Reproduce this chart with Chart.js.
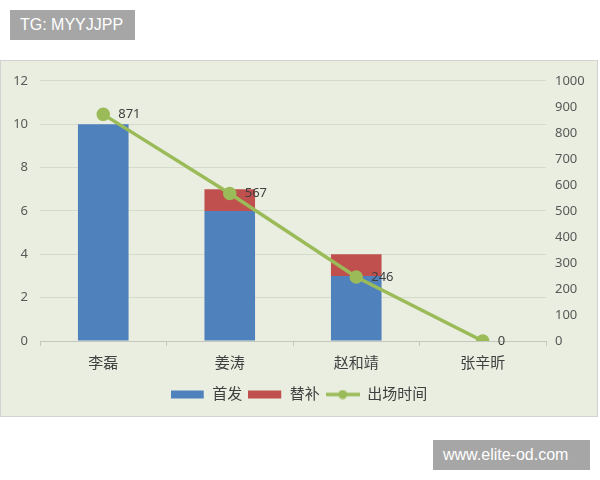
<!DOCTYPE html>
<html>
<head>
<meta charset="utf-8">
<script src="https://cdn.jsdelivr.net/npm/chart.js@4"></script>
<style>
  body { margin: 0; background: #fff; width: 600px; height: 480px; position: relative; overflow: hidden; }
  .tag { position: absolute; background: #a6a6a6; color: #fff; font-family: "Liberation Sans", Arial, sans-serif; font-size: 16px; line-height: 30px; padding: 0 10px; }
  #tg { left: 10px; top: 10px; width: 105px; }
  #site { left: 433px; top: 440px; width: 137px; }
  #panel { position: absolute; left: 0; top: 60px; width: 598px; height: 357px; box-sizing: border-box; border: 1px solid #d2d2d2; background: #e9eee0; }
  #panel canvas { position: absolute; left: 0; top: 0; }
</style>
</head>
<body>
<div class="tag" id="tg">TG: MYYJJPP</div>
<div class="tag" id="site">www.elite-od.com</div>
<div id="panel"><canvas id="canvas" width="596" height="355"></canvas></div>
<script>
const players = ['李磊', '姜涛', '赵和靖', '张辛昕'];
const starts = [10, 6, 3, 0];
const subs = [0, 1, 1, 0];
const minutes = [871, 567, 246, 0];

const fontFam = '"Noto Sans", "Noto Sans CJK SC", sans-serif';

// little pictures for the legend keys
function keyPic(kind, color) {
  const c = document.createElement('canvas');
  c.width = 34; c.height = 10;
  const g = c.getContext('2d');
  g.fillStyle = color;
  g.strokeStyle = color;
  if (kind === 'box') {
    g.fillRect(0, 1, 33, 8);
  } else {
    g.lineWidth = 3.5;
    g.beginPath(); g.moveTo(0, 5); g.lineTo(34, 5); g.stroke();
    g.beginPath(); g.arc(17, 5, 4.5, 0, Math.PI * 2); g.fill();
  }
  return c;
}
const keys = [keyPic('box', '#4f81bd'), keyPic('box', '#c0504d'), keyPic('line', '#9bbb59')];

const valueLabels = {
  id: 'valueLabels',
  afterDatasetsDraw(chart) {
    const meta = chart.getDatasetMeta(2);
    const ctx = chart.ctx;
    ctx.save();
    ctx.font = '13px ' + fontFam;
    ctx.fillStyle = '#404040';
    ctx.textBaseline = 'middle';
    meta.data.forEach(function(pt, i) {
      ctx.fillText(minutes[i], pt.x + 15, pt.y);
    });
    ctx.restore();
  }
};

const ctx = document.getElementById('canvas');

new Chart(ctx, {
  type: 'bar',
  data: {
    labels: players,
    datasets: [{
      label: '首发',
      data: starts,
      backgroundColor: '#4f81bd',
      stack: 's',
      yAxisID: 'y',
      order: 2
    }, {
      label: '替补',
      data: subs,
      backgroundColor: '#c0504d',
      stack: 's',
      yAxisID: 'y',
      order: 2
    }, {
      type: 'line',
      label: '出场时间',
      data: minutes,
      borderColor: '#9bbb59',
      backgroundColor: '#9bbb59',
      borderWidth: 3.5,
      pointRadius: 5,
      pointHoverRadius: 5,
      yAxisID: 'y2',
      order: 1
    }]
  },
  options: {
    responsive: false,
    animation: false,
    events: [],
    categoryPercentage: 1,
    barPercentage: 0.4,
    layout: { padding: { top: 18, bottom: 4 } },
    scales: {
      x: {
        stacked: true,
        grid: { display: true, drawOnChartArea: false, color: '#c4c8bc', tickLength: 5, offset: true },
        border: { color: '#c4c8bc' },
        ticks: { color: '#404040', font: { size: 15, family: fontFam }, padding: 9 },
        afterFit(scale) { scale.height = 40; }
      },
      y: {
        stacked: true,
        min: 0, max: 12,
        ticks: { stepSize: 2, color: '#595959', font: { size: 13, family: fontFam }, padding: 12 },
        grid: { color: '#d5dbcb', drawTicks: false },
        border: { display: false },
        afterFit(scale) { scale.width = 39; }
      },
      y2: {
        position: 'right',
        min: 0, max: 1000,
        ticks: {
          stepSize: 100, color: '#595959', font: { size: 13, family: fontFam }, padding: 9,
          callback: function(v) { return String(v); }
        },
        grid: { display: false, drawTicks: false },
        border: { display: false },
        afterFit(scale) { scale.width = 51; }
      }
    },
    plugins: {
      tooltip: { enabled: false },
      legend: {
        position: 'bottom',
        labels: {
          usePointStyle: true,
          pointStyleWidth: 34,
          boxHeight: 10,
          padding: 6,
          color: '#404040',
          font: { size: 15, family: fontFam },
          generateLabels(chart) {
            const items = Chart.defaults.plugins.legend.labels.generateLabels(chart);
            items.forEach(function(it) { it.pointStyle = keys[it.datasetIndex]; });
            return items.sort(function(a, b) { return a.datasetIndex - b.datasetIndex; });
          }
        }
      }
    }
  },
  plugins: [valueLabels]
});
</script>
</body>
</html>
